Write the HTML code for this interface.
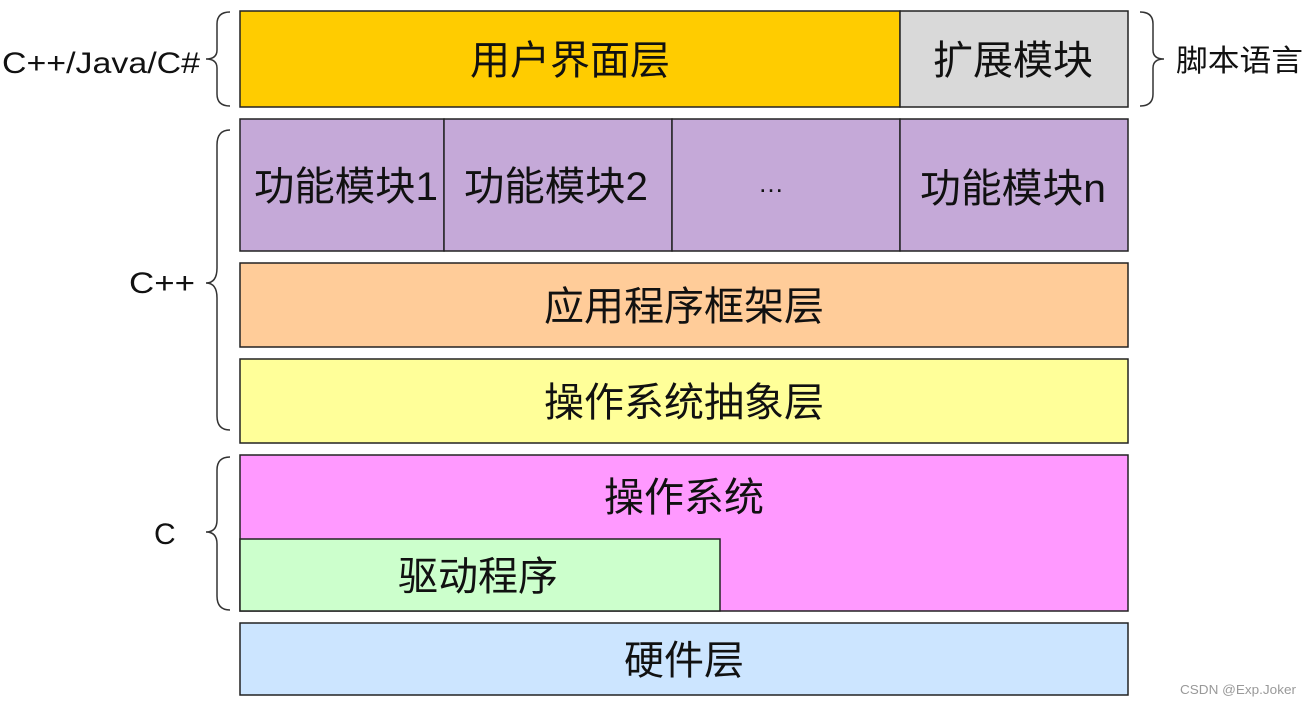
<!DOCTYPE html>
<html><head><meta charset="utf-8"><style>
html,body{margin:0;padding:0;background:#fff;}
svg text{font-family:"Liberation Sans","Noto Sans CJK SC",sans-serif;fill:#111;}
</style></head><body>
<svg width="1311" height="706" xmlns="http://www.w3.org/2000/svg">
<g stroke="#222" stroke-width="1.5">
<rect x="240" y="11" width="660" height="96" fill="#FFCC00"/>
<rect x="900" y="11" width="228" height="96" fill="#D9D9D9"/>
<rect x="240" y="119" width="204" height="132" fill="#C5A9D8"/>
<rect x="444" y="119" width="228" height="132" fill="#C5A9D8"/>
<rect x="672" y="119" width="228" height="132" fill="#C5A9D8"/>
<rect x="900" y="119" width="228" height="132" fill="#C5A9D8"/>
<rect x="240" y="263" width="888" height="84" fill="#FFCC99"/>
<rect x="240" y="359" width="888" height="84" fill="#FFFF99"/>
<rect x="240" y="455" width="888" height="156" fill="#FF99FF"/>
<rect x="240" y="539" width="480" height="72" fill="#CCFFCC"/>
<rect x="240" y="623" width="888" height="72" fill="#CCE5FF"/>
</g>
<g fill="none" stroke="#333" stroke-width="1.5">
<path d="M230,12 Q217,12 217,24 L217,50 Q217,59 206,59 Q217,59 217,68 L217,94 Q217,106 230,106"/>
<path d="M230,130 Q217,130 217,145 L217,268 Q217,283 206,283 Q217,283 217,298 L217,416 Q217,430 230,430"/>
<path d="M230,457 Q217,457 217,470 L217,520 Q217,532 206,532 Q217,532 217,544 L217,596 Q217,610 230,610"/>
<path d="M1140,12 Q1153,12 1153,24 L1153,50 Q1153,59 1164,59 Q1153,59 1153,68 L1153,94 Q1153,106 1140,106"/>
</g>
<g font-size="40" text-anchor="middle">
<text x="570" y="74">用户界面层</text>
<text x="1013" y="74">扩展模块</text>
<text x="346" y="200" textLength="184" lengthAdjust="spacingAndGlyphs">功能模块1</text>
<text x="556" y="200" textLength="184" lengthAdjust="spacingAndGlyphs">功能模块2</text>
<text x="771" y="192" font-size="26">…</text>
<text x="1013" y="202" textLength="186" lengthAdjust="spacingAndGlyphs">功能模块n</text>
<text x="684" y="320">应用程序框架层</text>
<text x="684" y="416">操作系统抽象层</text>
<text x="684" y="511">操作系统</text>
<text x="478" y="590">驱动程序</text>
<text x="684" y="674">硬件层</text>
</g>
<g font-size="30">
<text x="2" y="73" textLength="198" lengthAdjust="spacingAndGlyphs">C++/Java/C#</text>
<text x="129" y="293" textLength="66" lengthAdjust="spacingAndGlyphs">C++</text>
<text x="154" y="544">C</text>
<text x="1176" y="71" textLength="127" lengthAdjust="spacingAndGlyphs">脚本语言</text>
</g>
<text x="1180" y="694" font-size="13" style="fill:#999" textLength="116" lengthAdjust="spacingAndGlyphs">CSDN @Exp.Joker</text>
</svg>
</body></html>
